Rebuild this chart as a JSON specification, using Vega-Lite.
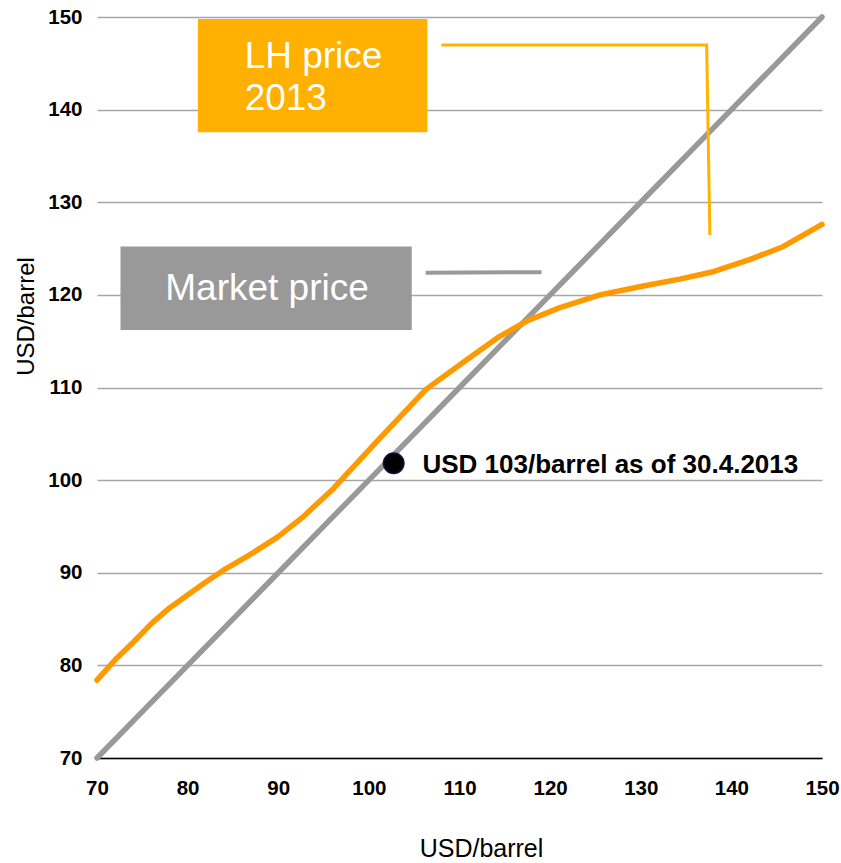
{
  "$schema": "https://vega.github.io/schema/vega-lite/v6.json",
  "width": 725,
  "height": 741,
  "autosize": {"type": "none"},
  "padding": {"left": 97, "top": 17, "right": 19, "bottom": 105},
  "background": "white",
  "config": {
    "view": {"stroke": null},
    "font": "Liberation Sans, Arial, sans-serif"
  },
  "datasets": {
    "series": [
      {"series": "Market price", "x": 70, "y": 70},
      {"series": "Market price", "x": 75, "y": 75},
      {"series": "Market price", "x": 80, "y": 80},
      {"series": "Market price", "x": 85, "y": 85},
      {"series": "Market price", "x": 90, "y": 90},
      {"series": "Market price", "x": 95, "y": 95},
      {"series": "Market price", "x": 100, "y": 100},
      {"series": "Market price", "x": 105, "y": 105},
      {"series": "Market price", "x": 110, "y": 110},
      {"series": "Market price", "x": 115, "y": 115},
      {"series": "Market price", "x": 120, "y": 120},
      {"series": "Market price", "x": 125, "y": 125},
      {"series": "Market price", "x": 130, "y": 130},
      {"series": "Market price", "x": 135, "y": 135},
      {"series": "Market price", "x": 140, "y": 140},
      {"series": "Market price", "x": 145, "y": 145},
      {"series": "Market price", "x": 150, "y": 150},
      {"series": "LH price", "x": 70, "y": 78.4},
      {"series": "LH price", "x": 72, "y": 80.6},
      {"series": "LH price", "x": 74, "y": 82.5},
      {"series": "LH price", "x": 76, "y": 84.5},
      {"series": "LH price", "x": 78, "y": 86.2},
      {"series": "LH price", "x": 80, "y": 87.6},
      {"series": "LH price", "x": 82, "y": 89.0},
      {"series": "LH price", "x": 84, "y": 90.3},
      {"series": "LH price", "x": 86.8, "y": 91.9},
      {"series": "LH price", "x": 90, "y": 93.9},
      {"series": "LH price", "x": 92.7, "y": 96.0},
      {"series": "LH price", "x": 96.1, "y": 99.1},
      {"series": "LH price", "x": 101.2, "y": 104.5},
      {"series": "LH price", "x": 106.3, "y": 109.8},
      {"series": "LH price", "x": 110.8, "y": 113.0},
      {"series": "LH price", "x": 114.4, "y": 115.5},
      {"series": "LH price", "x": 117.5, "y": 117.2},
      {"series": "LH price", "x": 121, "y": 118.6},
      {"series": "LH price", "x": 125.5, "y": 120.0},
      {"series": "LH price", "x": 130, "y": 120.9},
      {"series": "LH price", "x": 134.3, "y": 121.7},
      {"series": "LH price", "x": 138, "y": 122.5},
      {"series": "LH price", "x": 142, "y": 123.8},
      {"series": "LH price", "x": 145.7, "y": 125.2},
      {"series": "LH price", "x": 150, "y": 127.6}
    ],
    "boxes": [
      {"label": "LH price", "x1": 81.13, "x2": 106.46, "y1": 149.78, "y2": 137.56, "fill": "#FFB000"},
      {"label": "Market price", "x1": 72.59, "x2": 104.73, "y1": 125.21, "y2": 116.22, "fill": "#999999"}
    ],
    "callouts": [
      {"id": "LH price", "o": 1, "x": 108.0, "y": 146.98},
      {"id": "LH price", "o": 2, "x": 137.27, "y": 146.98},
      {"id": "LH price", "o": 3, "x": 137.63, "y": 126.47},
      {"id": "Market price", "o": 1, "x": 106.27, "y": 122.4},
      {"id": "Market price", "o": 2, "x": 119.05, "y": 122.45}
    ],
    "boxtext": [
      {"text": "LH price", "x": 86.29, "y": 144.46},
      {"text": "2013", "x": 86.29, "y": 139.96},
      {"text": "Market price", "x": 77.53, "y": 119.46}
    ],
    "point": [
      {"x": 102.74, "y": 101.83, "label": "USD 103/barrel as of 30.4.2013", "lx": 105.91, "ly": 100.82}
    ]
  },
  "layer": [
    {
      "data": {"name": "series"},
      "mark": {"type": "line", "strokeWidth": 5.5, "strokeCap": "round", "strokeJoin": "round"},
      "encoding": {
        "x": {
          "field": "x", "type": "quantitative",
          "scale": {"domain": [70, 150], "nice": false, "zero": false},
          "axis": {
            "title": "USD/barrel",
            "values": [70, 80, 90, 100, 110, 120, 130, 140, 150],
            "grid": false, "ticks": false,
            "domainColor": "#000000", "domainWidth": 1.5,
            "labelFontSize": 20.5, "labelFontWeight": "bold", "labelColor": "#000000",
            "labelPadding": 20, "labelFlush": false,
            "titleFontSize": 25, "titleFontWeight": "normal", "titleColor": "#000000",
            "titleX": 384, "titleY": 98, "titleBaseline": "alphabetic", "titleAlign": "center"
          }
        },
        "y": {
          "field": "y", "type": "quantitative",
          "scale": {"domain": [70, 150], "nice": false, "zero": false},
          "axis": {
            "title": "USD/barrel",
            "values": [70, 80, 90, 100, 110, 120, 130, 140, 150],
            "grid": true, "gridColor": "#A6A6A6", "gridWidth": 1.5,
            "domain": false, "ticks": false,
            "labelFontSize": 20.5, "labelFontWeight": "bold", "labelColor": "#000000",
            "labelPadding": 15, "labelFlush": false,
            "titleFontSize": 24, "titleFontWeight": "normal", "titleColor": "#000000",
            "titleX": -64, "titleY": 299, "titleBaseline": "alphabetic", "titleAlign": "center", "titleAngle": -90
          }
        },
        "color": {
          "field": "series", "type": "nominal",
          "scale": {"domain": ["Market price", "LH price"], "range": ["#999999", "#FF9900"]},
          "legend": null
        },
        "order": {"value": 0}
      }
    },
    {
      "data": {"name": "boxes"},
      "mark": {"type": "rect"},
      "encoding": {
        "x": {"field": "x1", "type": "quantitative"},
        "x2": {"field": "x2"},
        "y": {"field": "y1", "type": "quantitative"},
        "y2": {"field": "y2"},
        "fill": {"field": "fill", "type": "nominal", "scale": null}
      }
    },
    {
      "data": {"name": "callouts"},
      "mark": {"type": "line", "strokeJoin": "miter"},
      "encoding": {
        "x": {"field": "x", "type": "quantitative"},
        "y": {"field": "y", "type": "quantitative"},
        "detail": {"field": "id", "type": "nominal"},
        "order": {"field": "o", "type": "quantitative"},
        "stroke": {
          "field": "id", "type": "nominal",
          "scale": {"domain": ["LH price", "Market price"], "range": ["#FFB300", "#999999"]},
          "legend": null
        },
        "strokeWidth": {
          "field": "id", "type": "nominal",
          "scale": {"domain": ["LH price", "Market price"], "range": [3, 4]},
          "legend": null
        }
      }
    },
    {
      "data": {"name": "boxtext"},
      "mark": {"type": "text", "align": "left", "baseline": "alphabetic", "fontSize": 37, "color": "#FFFFFF"},
      "encoding": {
        "x": {"field": "x", "type": "quantitative"},
        "y": {"field": "y", "type": "quantitative"},
        "text": {"field": "text"}
      }
    },
    {
      "data": {"name": "point"},
      "mark": {"type": "point", "filled": true, "size": 420, "color": "#000000", "stroke": "#10104a", "strokeWidth": 1.5, "opacity": 1},
      "encoding": {
        "x": {"field": "x", "type": "quantitative"},
        "y": {"field": "y", "type": "quantitative"}
      }
    },
    {
      "data": {"name": "point"},
      "mark": {"type": "text", "align": "left", "baseline": "alphabetic", "fontSize": 26, "fontWeight": "bold", "color": "#000000"},
      "encoding": {
        "x": {"field": "lx", "type": "quantitative"},
        "y": {"field": "ly", "type": "quantitative"},
        "text": {"field": "label"}
      }
    }
  ]
}
